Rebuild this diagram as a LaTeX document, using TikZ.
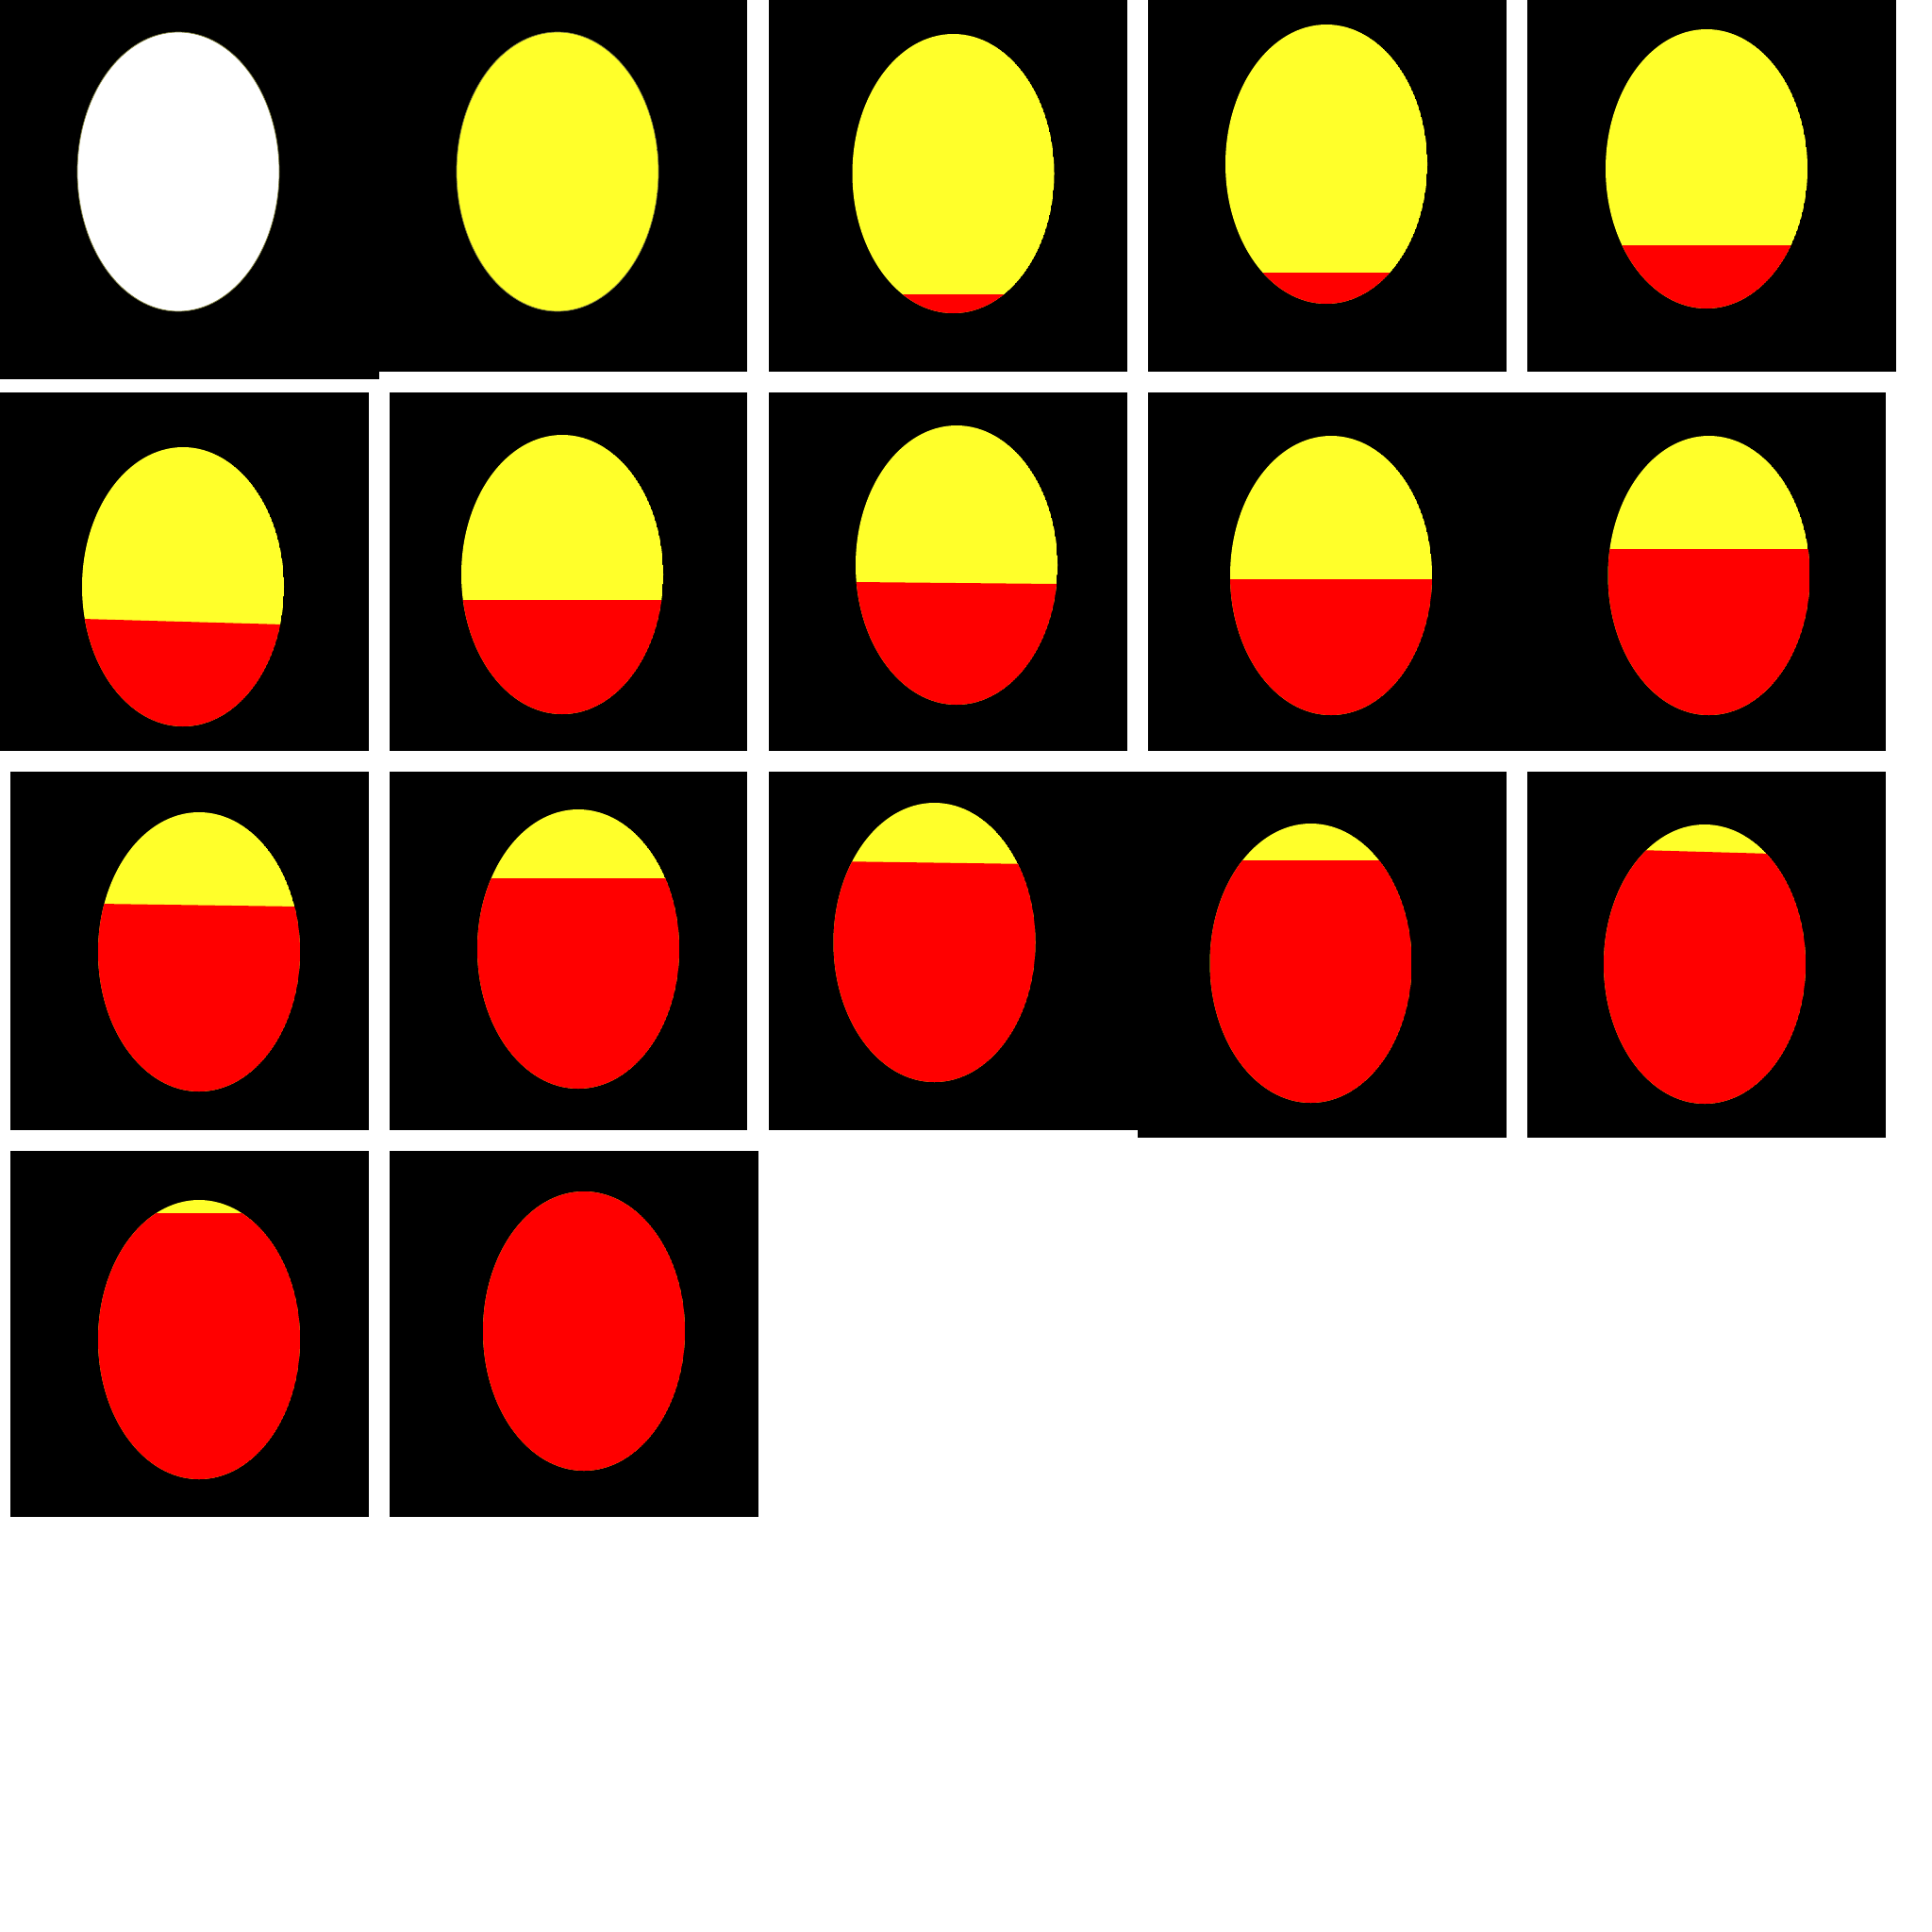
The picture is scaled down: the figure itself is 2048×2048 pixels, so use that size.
\documentclass[tikz,border=0pt]{standalone}
\usepackage{tikz}
\definecolor{eggyellow}{RGB}{255,255,42}
\definecolor{eggrim}{RGB}{128,128,60}
\def\egg(#1,#2)(#3:#4){\begin{scope}
	\clip (#1,#2) ellipse (107 and 148);
	\fill[eggyellow] (#1,#2) ellipse (107 and 148);
	\fill[red] (#1-107,#3) -- (#1+107,#4) -- (#1+107,#2+150) -- (#1-107,#2+150) -- cycle;
\end{scope}}

\begin{document}
\begin{tikzpicture}[x=0.01cm, y=-0.01cm]
			%%%%% START %%%%%
			
			\useasboundingbox[fill=white] (0, 0) rectangle (2048, 2048);
			
			% row 1
			\fill[black] (0, 0) rectangle (402, 402);
			\fill[black] (402, 0) rectangle (792, 394);
			\fill[black] (815, 0) rectangle (1195, 394);
			\fill[black] (1217, 0) rectangle (1597, 394);
			\fill[black] (1619, 0) rectangle (2010, 394);
			
			\draw[fill=white, draw=eggrim, line width=0.2pt] (189, 182) ellipse (107 and 148);
			\egg(591, 182)(332:332);
			\draw[draw=eggrim, line width=0.2pt] (591, 182) ellipse (107 and 148);
			\egg(1010.5, 184)(312:312);
			\egg(1406, 174)(289:289);
			\egg(1809, 179)(260:260);
			
			% row 2
			\fill[black] (0, 416) rectangle (391, 796);
			\fill[black] (413, 416) rectangle (792, 796);
			\fill[black] (815, 416) rectangle (1195, 796);
			\fill[black] (1217, 416) rectangle (1999, 796);
			
			\egg(194, 622)(656:662);
			\egg(596, 609)(636:636);
			\egg(1014, 599)(617:619);
			\egg(1411, 610)(614:614);
			\egg(1811.5, 610)(582:582);
			
			% row 3
			\fill[black] (11, 818) rectangle (391, 1198);
			\fill[black] (413, 818) rectangle (792, 1198);
			\fill[black] (815, 818) rectangle (1206, 1198);
			\fill[black] (1206, 818) rectangle (1597, 1206);
			\fill[black] (1619, 818) rectangle (1999, 1206);
			
			\egg(211, 1009)(958:961);
			\egg(613, 1006)(931:931);
			\egg(990.5, 999)(913:916);
			\egg(1389.5, 1021)(912:912);
			\egg(1807, 1022)(900:906);
			
			% row 4
			\fill[black] (11, 1220) rectangle (391, 1608);
			\fill[black] (413, 1220) rectangle (804, 1608);
			
			\egg(211, 1420)(1286:1286);
			\egg(619, 1411)(1250:1250);
			
			%%%%% END %%%%%
\end{tikzpicture}
\end{document}
